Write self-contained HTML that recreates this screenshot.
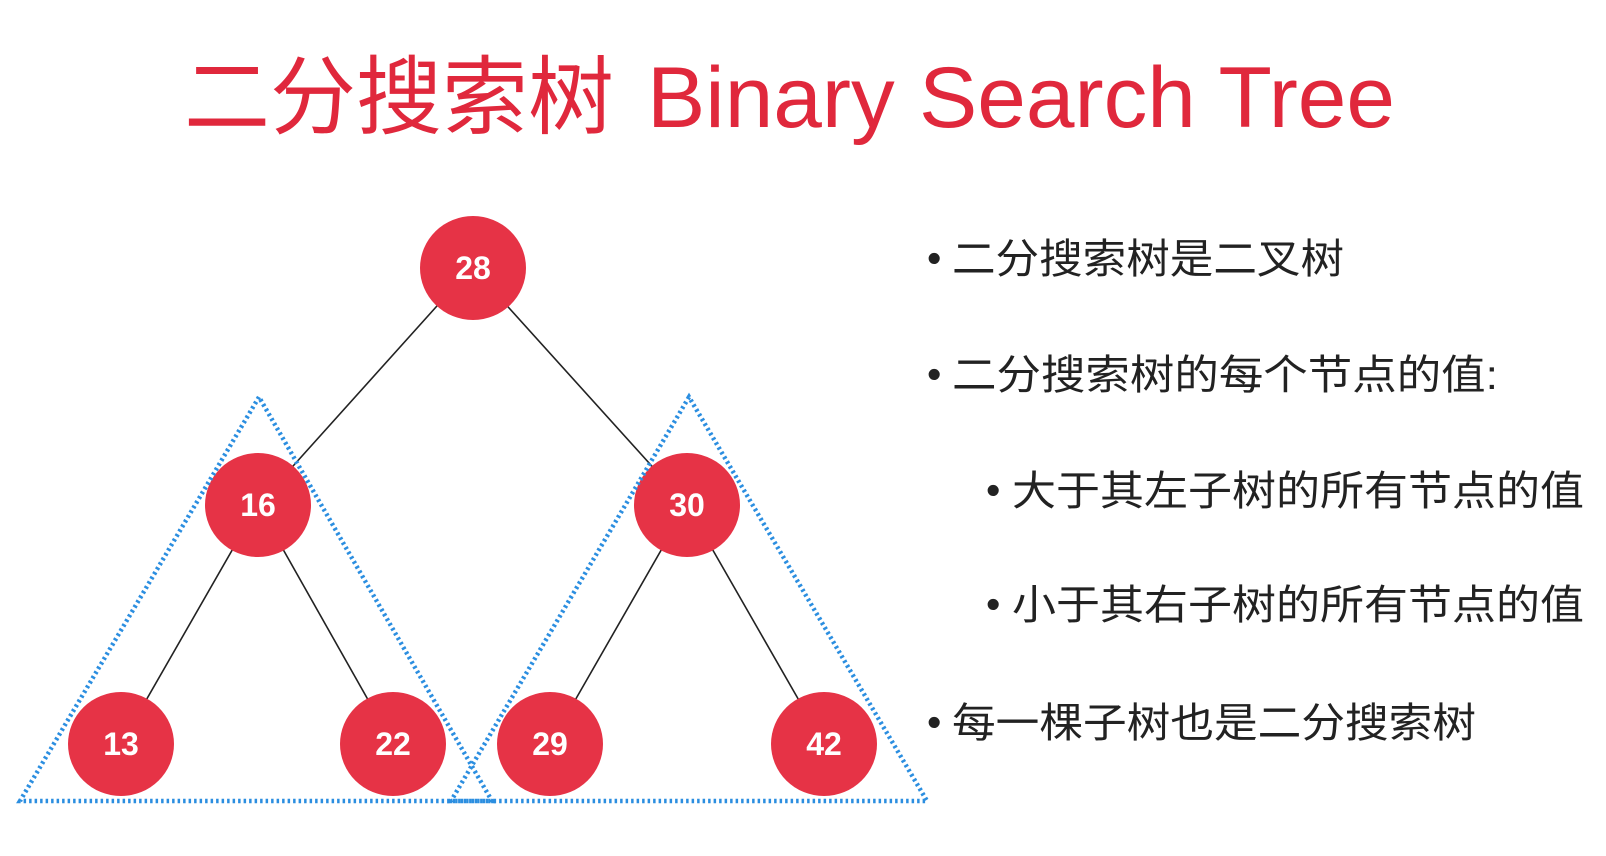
<!DOCTYPE html>
<html><head><meta charset="utf-8"><style>
html,body{margin:0;padding:0;background:#fff;}
svg{display:block}
</style></head><body>
<svg width="1606" height="856" viewBox="0 0 1606 856" xmlns="http://www.w3.org/2000/svg">
<rect width="1606" height="856" fill="#fff"/>
<text x="184" y="127" font-family="Liberation Sans, Noto Sans CJK SC, sans-serif" font-size="86" fill="#e0283c"><tspan textLength="430" lengthAdjust="spacingAndGlyphs">二分搜索树</tspan><tspan x="647" textLength="748" lengthAdjust="spacingAndGlyphs">Binary Search Tree</tspan></text>
<g stroke="#222" stroke-width="1.6">
<line x1="472" y1="267" x2="258" y2="505"/><line x1="472" y1="267" x2="687" y2="505"/>
<line x1="258" y1="505" x2="121" y2="744"/><line x1="258" y1="505" x2="393" y2="744"/>
<line x1="687" y1="505" x2="550" y2="744"/><line x1="687" y1="505" x2="824" y2="744"/>
</g>
<g fill="#e63346">
<ellipse cx="473" cy="268" rx="53" ry="52"/>
<ellipse cx="258" cy="505" rx="53" ry="52"/>
<ellipse cx="687" cy="505" rx="53" ry="52"/>
<ellipse cx="121" cy="744" rx="53" ry="52"/>
<ellipse cx="393" cy="744" rx="53" ry="52"/>
<ellipse cx="550" cy="744" rx="53" ry="52"/>
<ellipse cx="824" cy="744" rx="53" ry="52"/>
</g>
<g font-family="Liberation Sans, sans-serif" font-weight="bold" font-size="32" fill="#fff" text-anchor="middle">
<text x="473" y="279">28</text><text x="258" y="516">16</text><text x="687" y="516">30</text>
<text x="121" y="755">13</text><text x="393" y="755">22</text><text x="550" y="755">29</text><text x="824" y="755">42</text>
</g>
<g fill="none" stroke="#2b8ee0" stroke-width="4.5" stroke-dasharray="2.5 3">
<polygon points="259,397 20,801 492,801"/>
<polygon points="689,397 451,801 927,801"/>
</g>
<g font-family="Liberation Sans, Noto Sans CJK SC, sans-serif" font-size="41" fill="#222">
<text x="927" y="272">•</text><text x="952" y="273" textLength="392" lengthAdjust="spacingAndGlyphs">二分搜索树是二叉树</text>
<text x="927" y="388">•</text><text x="952" y="389" textLength="546" lengthAdjust="spacingAndGlyphs">二分搜索树的每个节点的值:</text>
<text x="986" y="504">•</text><text x="1012" y="505" textLength="572" lengthAdjust="spacingAndGlyphs">大于其左子树的所有节点的值</text>
<text x="986" y="618">•</text><text x="1012" y="619" textLength="572" lengthAdjust="spacingAndGlyphs">小于其右子树的所有节点的值</text>
<text x="927" y="736">•</text><text x="952" y="737" textLength="524" lengthAdjust="spacingAndGlyphs">每一棵子树也是二分搜索树</text>
</g>
</svg>
</body></html>
